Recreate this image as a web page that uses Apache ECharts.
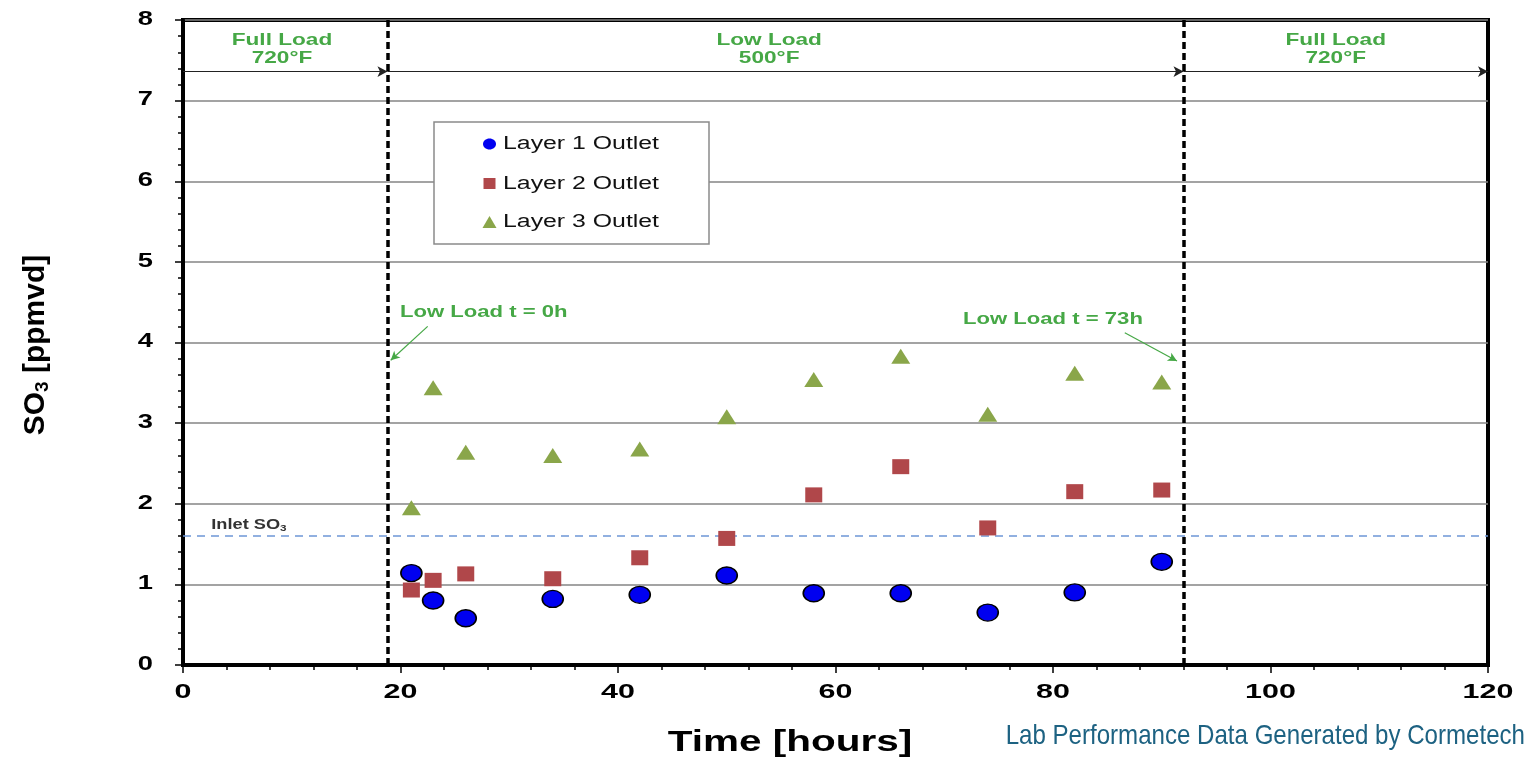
<!DOCTYPE html>
<html>
<head>
<meta charset="utf-8">
<script src="https://cdn.jsdelivr.net/npm/echarts@6/dist/echarts.min.js"></script>
<style>
html,body{margin:0;padding:0;background:#fff;}
#main{width:1531px;height:763px;}
</style>
</head>
<body>
<div id="main"></div>
<script>
// ---- data ----
const hours = [21, 23, 26, 34, 42, 50, 58, 66, 74, 82, 90];
const layer1 = [1.14, 0.80, 0.58, 0.82, 0.87, 1.11, 0.89, 0.89, 0.65, 0.90, 1.28];
const layer2 = [0.93, 1.05, 1.13, 1.07, 1.33, 1.57, 2.11, 2.46, 1.70, 2.15, 2.17];
const layer3 = [1.95, 3.44, 2.64, 2.60, 2.68, 3.08, 3.54, 3.83, 3.11, 3.62, 3.51];
const seriesNames = ['Layer 1 Outlet', 'Layer 2 Outlet', 'Layer 3 Outlet'];
const inletSO3 = 1.6;
const lowLoadStart = 18.8;
const lowLoadEnd = 92;
const xTicks = [0, 20, 40, 60, 80, 100, 120];
const yTicks = [0, 1, 2, 3, 4, 5, 6, 7, 8];
const phaseArrowY = 7.36;

const GREEN = '#46a846';
const COL1 = '#0000f0', COL2 = '#b0474a', COL3 = '#8aa64a';
const FONT = '"Liberation Sans", Arial, sans-serif';
const chart = echarts.init(document.getElementById('main'));
const pairs = arr => hours.map((h, i) => [h, arr[i]]);

const option = {
  animation: false,
  backgroundColor: '#fff',
  grid: { left: 183, right: 43, top: 20, bottom: 98, show: true, borderColor: '#000', borderWidth: 4, backgroundColor: 'transparent' },
  xAxis: {
    type: 'value', min: xTicks[0], max: xTicks[xTicks.length - 1], interval: 20,
    axisLine: { show: true, lineStyle: { color: '#000', width: 4 } },
    axisTick: { show: true, length: 8, lineStyle: { color: '#000', width: 1.5 } },
    minorTick: { show: true, splitNumber: 5, length: 5, lineStyle: { color: '#000', width: 1.5 } },
    splitLine: { show: false },
    axisLabel: { show: false }
  },
  yAxis: {
    type: 'value', min: yTicks[0], max: yTicks[yTicks.length - 1], interval: 1,
    axisLine: { show: true, lineStyle: { color: '#000', width: 4 } },
    axisTick: { show: true, length: 8, lineStyle: { color: '#000', width: 1.5 } },
    minorTick: { show: true, splitNumber: 5, length: 5, lineStyle: { color: '#000', width: 1.5 } },
    splitLine: { show: true, lineStyle: { color: '#858585', width: 1.5 } },
    axisLabel: { show: false }
  },
  legend: { show: false },
  series: [
    {
      name: seriesNames[0], type: 'scatter', z: 5,
      data: pairs(layer1), symbol: 'circle', symbolSize: [21, 17],
      itemStyle: { color: COL1, borderColor: '#000', borderWidth: 1.5, opacity: 1 },
      markLine: {
        silent: true, symbol: ['none', 'none'], animation: false,
        label: { show: false },
        lineStyle: { color: '#000', width: 3.5, type: [7, 4] },
        data: [ { xAxis: lowLoadStart }, { xAxis: lowLoadEnd } ]
      }
    },
    {
      name: seriesNames[1], type: 'scatter', z: 5,
      data: pairs(layer2), symbol: 'rect', symbolSize: [17, 15],
      itemStyle: { color: COL2, opacity: 1 },
      markLine: {
        silent: true, symbol: ['none', 'arrow'], symbolSize: [8, 10], animation: false,
        label: { show: false },
        lineStyle: { color: '#222', width: 1.2, type: 'solid' },
        data: [
          [{ coord: [0, phaseArrowY] }, { coord: [lowLoadStart, phaseArrowY] }],
          [{ coord: [lowLoadStart, phaseArrowY] }, { coord: [lowLoadEnd, phaseArrowY] }],
          [{ coord: [lowLoadEnd, phaseArrowY] }, { coord: [120, phaseArrowY] }]
        ]
      }
    },
    {
      name: seriesNames[2], type: 'scatter', z: 5,
      data: pairs(layer3), symbol: 'triangle', symbolSize: [19, 15],
      itemStyle: { color: COL3, opacity: 1 },
      markLine: {
        silent: true, symbol: ['none', 'arrow'], symbolSize: [7, 9], animation: false,
        label: { show: false },
        lineStyle: { color: GREEN, width: 1.2, type: 'solid' },
        data: [
          [{ coord: [22.5, 4.2] }, { coord: [19.1, 3.78] }],
          [{ coord: [86.6, 4.12] }, { coord: [91.4, 3.77] }]
        ]
      }
    },
    {
      name: 'inlet', type: 'line', data: [], z: 3,
      markLine: {
        silent: true, symbol: ['none', 'none'], animation: false,
        lineStyle: { color: '#6d97d6', width: 1.5, type: [8, 6] },
        label: { show: false },
        data: [ { yAxis: inletSO3 } ]
      }
    }
  ]
};
chart.setOption(option);

const px = (x, y) => chart.convertToPixel({ gridIndex: 0 }, [x, y]);
const g = [];
function T(text, x, y, font, fill, align, sx, extra) {
  g.push(Object.assign({
    type: 'text', x: x, y: y, scaleX: sx || 1, z: 10,
    style: { text: text, font: font, fill: fill, align: align || 'center', verticalAlign: 'middle', lineHeight: 18 }
  }, extra || {}));
}
// tick labels
xTicks.forEach(v => { const [x, y] = px(v, 0); T(String(v), x, y + 27, 'bold 21px ' + FONT, '#000', 'center', 1.45); });
yTicks.forEach(v => { const [x, y] = px(0, v); T(String(v), x - 30, y - 1, 'bold 21px ' + FONT, '#000', 'right', 1.3); });

// phase labels
const phaseLabels = [
  { x: lowLoadStart / 2 - 0.3, t: 'Full Load\n720°F' },
  { x: (lowLoadStart + lowLoadEnd) / 2 - 1.5, t: 'Low Load\n500°F' },
  { x: (lowLoadEnd + 120) / 2, t: 'Full Load\n720°F' }
];
phaseLabels.forEach(p => { const [x] = px(p.x, 0); T(p.t, x, 49, 'bold 17px ' + FONT, GREEN, 'center', 1.33); });
T('Low Load t = 0h', 400, 312, 'bold 17px ' + FONT, GREEN, 'left', 1.3);
T('Low Load t = 73h', 963, 319, 'bold 17px ' + FONT, GREEN, 'left', 1.3);

// Inlet SO3 label
const inletPx = px(2.6, inletSO3);
g.push({
  type: 'text', x: inletPx[0], y: inletPx[1] - 11, scaleX: 1.3, z: 10,
  style: {
    text: '{a|Inlet SO}{b|3}', verticalAlign: 'middle', align: 'left',
    rich: {
      a: { font: 'bold 14px ' + FONT, fill: '#333' },
      b: { font: 'bold 9px ' + FONT, fill: '#333', padding: [7, 0, 0, 0] }
    }
  }
});

// legend (box, symbols, names)
g.push({ type: 'rect', shape: { x: 434, y: 122, width: 275, height: 122 }, style: { fill: '#fff', stroke: '#8a8a8a', lineWidth: 1.5 }, z: 8 });
g.push({ type: 'ellipse', shape: { cx: 489.5, cy: 144, rx: 6.5, ry: 5.5 }, style: { fill: COL1 }, z: 9 });
g.push({ type: 'rect', shape: { x: 483.5, y: 178, width: 12, height: 11 }, style: { fill: COL2 }, z: 9 });
g.push({ type: 'polygon', shape: { points: [[489.5, 216], [496.5, 228], [482.5, 228]] }, style: { fill: COL3 }, z: 9 });
const legendY = [144, 184, 222];
seriesNames.forEach((n, i) => T(n, 503, legendY[i], '18px ' + FONT, '#111', 'left', 1.38));

// axis names
g.push({
  type: 'text', x: 36, y: 345, rotation: Math.PI / 2, z: 10,
  style: {
    text: '{a|SO}{b|3}{a| [ppmvd]}', align: 'center', verticalAlign: 'middle',
    rich: {
      a: { font: 'bold 30px ' + FONT, fill: '#000' },
      b: { font: 'bold 19px ' + FONT, fill: '#000', padding: [14, 0, 0, 0] }
    }
  }
});
T('Time [hours]', 790, 743, 'bold 30px ' + FONT, '#000', 'center', 1.35);
T('Lab Performance Data Generated by Cormetech', 1525, 736, '28px ' + FONT, '#1d6282', 'right', 0.86);
chart.setOption({ graphic: g });
</script>
</body>
</html>
